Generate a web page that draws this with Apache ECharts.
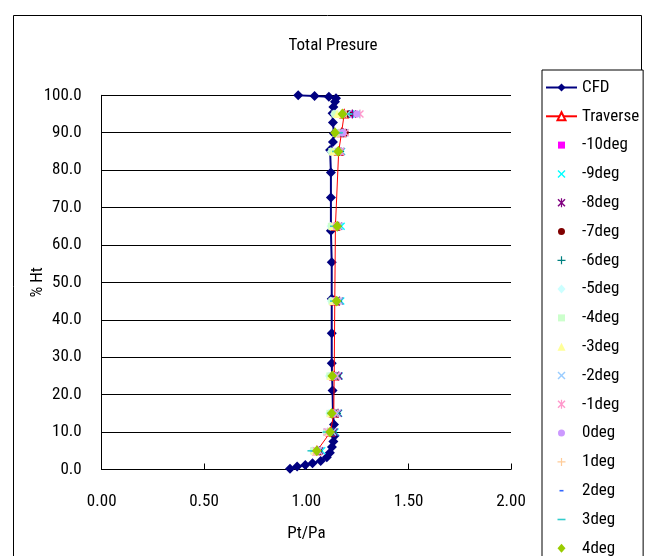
<!DOCTYPE html>
<html><head><meta charset="utf-8">
<script src="https://cdn.jsdelivr.net/npm/echarts@6/dist/echarts.min.js"></script>
<style>html,body{margin:0;padding:0;background:#fff}#c{width:649px;height:556px}</style>
</head><body><div id="c"></div>
<script>
// ---- data ----
const heights = [95, 90, 85, 65, 45, 25, 15, 10, 5];
const cfdX = [0.92,0.955,0.995,1.03,1.07,1.10,1.115,1.125,1.132,1.138,1.135,1.13,1.128,1.124,1.124,1.124,1.124,1.12,1.12,1.12,1.116,1.13,1.135,1.13,1.128,1.132,1.14,1.145,1.11,1.04,0.96];
const cfdY = [0.2,0.8,1.2,1.7,2.3,3.3,4.5,6.0,7.5,9.0,12,15,21.1,28.4,36.4,45.6,55.4,63.8,72.7,79.4,85.4,87.5,89.8,92.7,95.2,96.9,98.3,99.2,99.6,99.8,100];
const traverse = [1.185,1.172,1.158,1.142,1.139,1.136,1.134,1.118,1.052];
const m10 = [1.215,1.165,1.150,1.135,1.132,1.128,1.126,1.100,1.040];
const m9  = [1.245,1.185,1.172,1.170,1.168,1.160,1.158,1.140,1.075];
const m8  = [1.225,1.180,1.168,1.158,1.162,1.158,1.155,1.135,1.065];
const m7  = [1.205,1.190,1.160,1.150,1.150,1.148,1.145,1.125,1.058];
const m6  = [1.210,1.175,1.165,1.155,1.155,1.150,1.150,1.130,1.060];
const m5  = [1.135,1.140,1.120,1.118,1.120,1.110,1.112,1.095,1.030];
const m4  = [1.140,1.150,1.125,1.122,1.125,1.115,1.115,1.100,1.035];
const m3  = [1.150,1.145,1.130,1.128,1.130,1.118,1.118,1.105,1.040];
const m2  = [1.200,1.170,1.160,1.160,1.160,1.150,1.150,1.128,1.060];
const m1  = [1.262,1.190,1.168,1.150,1.150,1.145,1.140,1.105,1.050];
const p0  = [1.246,1.178,1.155,1.145,1.145,1.135,1.132,1.115,1.055];
const p1  = [1.195,1.160,1.150,1.142,1.142,1.132,1.130,1.110,1.048];
const p2  = [1.215,1.165,1.150,1.140,1.140,1.130,1.128,1.108,1.030];
const p3  = [1.205,1.160,1.145,1.135,1.135,1.125,1.120,1.100,1.025];
const p4  = [1.176,1.140,1.156,1.151,1.148,1.127,1.124,1.116,1.051];
const angleNames = ['-10deg','-9deg','-8deg','-7deg','-6deg','-5deg','-4deg','-3deg','-2deg','-1deg','0deg','1deg','2deg','3deg','4deg'];
const angleData = [m10,m9,m8,m7,m6,m5,m4,m3,m2,m1,p0,p1,p2,p3,p4];

// ---- styles ----
const PAD = 'M0,0M10,10';
const SYM = {
  sq: 'path://' + PAD + 'M1.5,1.5L8.5,1.5L8.5,8.5L1.5,8.5Z',
  x: 'path://' + PAD + 'M1,2L2,1L5,4L8,1L9,2L6,5L9,8L8,9L5,6L2,9L1,8L4,5Z',
  ast: 'path://' + PAD + 'M1,2L2,1L5,4L8,1L9,2L6,5L9,8L8,9L5,6L2,9L1,8L4,5ZM4.4,0.5L5.6,0.5L5.6,9.5L4.4,9.5Z',
  ci: 'path://' + PAD + 'M5,1.5A3.5,3.5,0,1,1,4.99,1.5Z',
  plus: 'path://' + PAD + 'M4.4,1L5.6,1L5.6,4.4L9,4.4L9,5.6L5.6,5.6L5.6,9L4.4,9L4.4,5.6L1,5.6L1,4.4L4.4,4.4Z',
  dia: 'path://' + PAD + 'M5,0.5L9,5L5,9.5L1,5Z',
  tri: 'path://' + PAD + 'M5,1L9,9L1,9Z',
  dashS: 'path://' + PAD + 'M3,4.2L7,4.2L7,5.8L3,5.8Z',
  dashL: 'path://' + PAD + 'M1,4.2L9,4.2L9,5.8L1,5.8Z'
};
const angleSym = [SYM.sq,SYM.x,SYM.ast,SYM.ci,SYM.plus,SYM.dia,SYM.sq,SYM.tri,SYM.x,SYM.ast,SYM.ci,SYM.plus,SYM.dashS,SYM.dashL,SYM.dia];
const angleCol = ['#FF00FF','#00FFFF','#800080','#800000','#008080','#CCFFFF','#CCFFCC','#FFFF99','#99CCFF','#FF99CC','#CC99FF','#FFCC99','#3366FF','#33CCCC','#99CC00'];
const angleSize = [10,10,10,10,10,10,10,10,10,10,10,10,10,10,12];
const FONT = "'Liberation Sans Narrow', 'Roboto Condensed', 'Liberation Sans', sans-serif";

const series = [];
series.push({
  name: 'CFD', type: 'line', data: cfdX.map((v,i)=>[v,cfdY[i]]),
  symbol: 'diamond', symbolSize: 10, showAllSymbol: true,
  lineStyle: {color: '#000080', width: 2}, itemStyle: {color: '#000080'},
  animation: false, z: 2
});
series.push({
  name: 'Traverse', type: 'line', data: traverse.map((v,i)=>[v,heights[i]]),
  symbol: 'emptyTriangle', symbolSize: 7, showAllSymbol: true,
  lineStyle: {color: '#FF0000', width: 1}, itemStyle: {color: '#FF0000', borderColor: '#FF0000'},
  animation: false, z: 3
});
angleNames.forEach((n, k) => {
  series.push({
    name: n, type: 'scatter', data: angleData[k].map((v,i)=>[v,heights[i]]),
    symbol: angleSym[k], symbolSize: angleSize[k], symbolKeepAspect: true,
    itemStyle: {color: angleCol[k], opacity: 1}, animation: false, z: 4
  });
});

const chart = echarts.init(document.getElementById('c'), null, {renderer: 'canvas'});
chart.setOption({
  backgroundColor: '#fff',
  animation: false,
  title: {
    text: 'Total Presure', left: 328, top: 32, textAlign: 'center',
    textStyle: {fontFamily: FONT, fontSize: 17, fontWeight: 'normal', color: '#000'}
  },
  graphic: [{
    type: 'rect', shape: {x: 13.5, y: 15.5, width: 628, height: 560},
    style: {fill: 'none', stroke: '#000', lineWidth: 1}, silent: true, z: -1
  }],
  grid: {left: 101.7, right: 138, top: 95.3, bottom: 86.5, containLabel: false},
  legend: {
    orient: 'vertical', left: 542, top: 70, height: 800,
    padding: [9, 4, 9, 3],
    itemWidth: 31, itemHeight: 10, itemGap: 11.8,
    borderColor: '#000', borderWidth: 1, backgroundColor: '#fff',
    textStyle: {fontFamily: FONT, fontSize: 17, lineHeight: 16, color: '#000'},
    data: ['CFD','Traverse'].concat(angleNames)
  },
  xAxis: {
    type: 'value', min: 0, max: 2, interval: 0.5,
    name: 'Pt/Pa', nameLocation: 'middle', nameGap: 56, nameMoveOverlap: false,
    nameTextStyle: {fontFamily: FONT, fontSize: 17, color: '#000'},
    axisLine: {show: true, lineStyle: {color: '#000', width: 1}},
    axisTick: {show: true, inside: true, length: 6, lineStyle: {color: '#000'}},
    axisLabel: {margin: 24, fontFamily: FONT, fontSize: 17, color: '#000', formatter: v => v.toFixed(2)},
    splitLine: {show: false}
  },
  yAxis: {
    type: 'value', min: 0, max: 100, interval: 10,
    name: '% Ht', nameLocation: 'middle', nameGap: 55, nameRotate: 90, nameMoveOverlap: false,
    nameTextStyle: {fontFamily: FONT, fontSize: 17, color: '#000'},
    axisLine: {show: true, lineStyle: {color: '#000', width: 1}},
    axisTick: {show: true, inside: true, length: 5, lineStyle: {color: '#000'}},
    axisLabel: {margin: 20, fontFamily: FONT, fontSize: 17, color: '#000', formatter: v => v.toFixed(1)},
    splitLine: {show: true, lineStyle: {color: '#000', width: 1}}
  },
  series: series
});
</script></body></html>
